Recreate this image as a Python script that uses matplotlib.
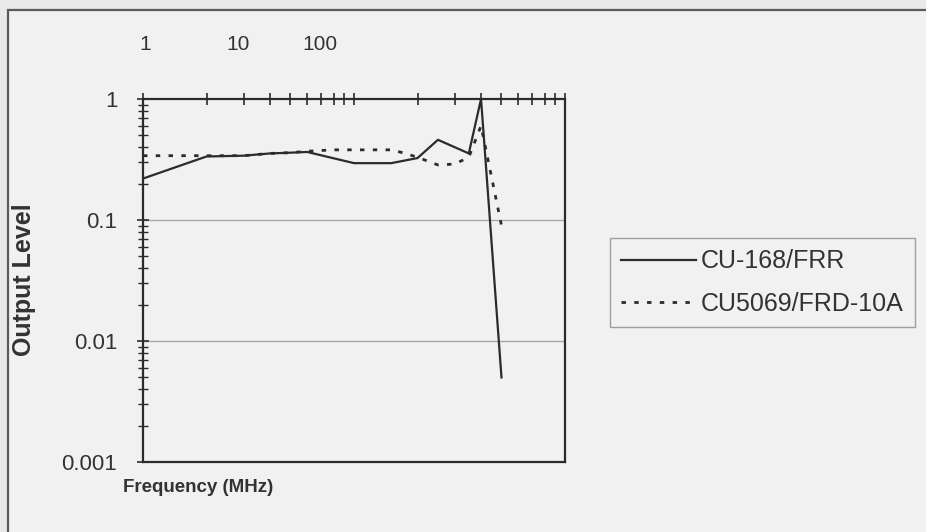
import numpy as np
import matplotlib.pyplot as plt
from matplotlib import font_manager
from matplotlib.patches import Rectangle
from matplotlib.ticker import LogLocator, NullFormatter, FixedLocator, FixedFormatter

names = {f.name for f in font_manager.fontManager.ttflist}
has_narrow = 'Liberation Sans Narrow' in names
narrow = 'Liberation Sans Narrow' if has_narrow else 'Liberation Sans'
plt.rcParams.update({
    'font.family': 'Liberation Sans',
    'text.color': '#333333',
})

# CU-168/FRR (solid)
freq_a = [1, 2, 3, 4, 5, 6, 10, 15, 20, 25, 35, 40, 50]
level_a = [0.22, 0.335, 0.34, 0.355, 0.36, 0.365, 0.295, 0.295, 0.325, 0.46, 0.355, 1.0, 0.005]
# CU5069/FRD-10A (dotted)
freq_b = [1, 2, 3, 4, 5, 6, 8, 10, 15, 17, 20, 25, 30, 35, 40, 50]
level_b = [0.34, 0.34, 0.34, 0.355, 0.36, 0.37, 0.38, 0.38, 0.38, 0.36, 0.33, 0.285, 0.29, 0.33, 0.6, 0.09]

series_names = ['CU-168/FRR', 'CU5069/FRD-10A']
y_ticks = [0.001, 0.01, 0.1, 1]
y_tick_labels = ['0.001', '0.01', '0.1', '1']
top_labels = ['1', '10', '100']

bg = '#f1f1f1'
ink = '#2b2b2b'

fig = plt.figure(figsize=(9.26, 5.32), dpi=100, facecolor='#e9e9e9')
W, H = 926, 532
# page frame of the scanned chart (only top and left edges show)
fig.patches.append(Rectangle((8 / W, -0.1), 1.2, 1.1 - 10 / H, transform=fig.transFigure,
                             facecolor=bg, edgecolor='#5a5a5a', linewidth=1.6, zorder=-5))

ax = fig.add_axes([143 / W, 1 - 462 / H, (565 - 143) / W, (462 - 99) / H])
ax.set_facecolor(bg)
ax.set_xscale('log')
ax.set_yscale('log')
ax.set_xlim(1, 100)
ax.set_ylim(0.001, 1)

ax.plot(freq_a, level_a, color=ink, linewidth=1.6, label=series_names[0], zorder=3)
ax.plot(freq_b, level_b, color=ink, linewidth=2.0, dashes=(1.6, 3.0), label=series_names[1], zorder=3)

# gridlines at 0.1 and 0.01
for v in y_ticks[1:3]:
    ax.axhline(v, color='#a8a8a8', linewidth=1.0, zorder=1)

for s in ax.spines.values():
    s.set_color(ink)
    s.set_linewidth(1.6)

# x ticks on top, without labels next to them
ax.xaxis.set_ticks_position('top')
ax.xaxis.set_major_locator(LogLocator(base=10))
ax.xaxis.set_minor_locator(LogLocator(base=10, subs=np.arange(2, 10)))
ax.xaxis.set_major_formatter(NullFormatter())
ax.xaxis.set_minor_formatter(NullFormatter())
ax.tick_params(axis='x', which='both', direction='inout', length=9, width=1.2, color=ink)

ax.yaxis.set_major_locator(FixedLocator(y_ticks))
ax.yaxis.set_major_formatter(FixedFormatter(y_tick_labels))
ax.yaxis.set_minor_locator(LogLocator(base=10, subs=np.arange(2, 10)))
ax.yaxis.set_minor_formatter(NullFormatter())
ax.tick_params(axis='y', which='major', direction='inout', length=9, width=1.2, color=ink,
               labelsize=16, pad=14, labelcolor='#333333')
ax.tick_params(axis='y', which='minor', direction='inout', length=7, width=1.0, color=ink)

# top scale labels as they sit on the scan
top_size = 16 if has_narrow else 15
for lab, px in zip(top_labels, [145, 238, 320]):
    fig.text(px / W, 1 - 45 / H, lab, ha='center', va='center', fontsize=top_size,
             family=narrow, color='#333333')

fig.text(198 / W, 1 - 487 / H, 'Frequency (MHz)', ha='center', va='center',
         fontsize=14.5 if has_narrow else 13.5, fontweight='bold', family=narrow,
         color='#333333')
fig.text(24 / W, 1 - 280 / H, 'Output Level', ha='center', va='center', rotation=90,
         fontsize=18, fontweight='bold', color='#333333')

leg = ax.legend(loc='upper left', bbox_to_anchor=(610 / W, 1 - 238 / H),
                bbox_transform=fig.transFigure, fontsize=18, frameon=True, fancybox=False,
                handlelength=3.0, handletextpad=0.2, labelspacing=0.75,
                borderpad=0.45, borderaxespad=0)
leg.get_frame().set_edgecolor('#8a8a8a')
leg.get_frame().set_facecolor(bg)
leg.get_frame().set_linewidth(1.0)

fig.savefig('out.png', dpi=100, facecolor=fig.get_facecolor())
